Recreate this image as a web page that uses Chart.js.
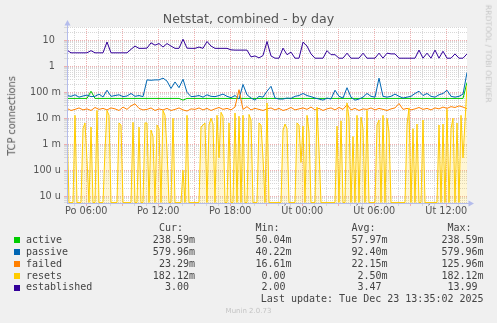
<!DOCTYPE html>
<html>
<head>
<meta charset="utf-8">
<title>Netstat, combined - by day</title>
<script src="https://cdn.jsdelivr.net/npm/chart.js@4.4.1/dist/chart.umd.min.js"></script>
<style>
  html, body { margin: 0; padding: 0; background: #f0f0f0; }
  #wrap { position: relative; width: 497px; height: 323px; overflow: hidden; font-family: 'DejaVu Sans', sans-serif; }
  #chart { position: absolute; left: 0; top: 0; }
  .txt { position: absolute; white-space: pre; }
  .title { left: 0; width: 497px; top: 13.3px; text-align: center; font-size: 12.6px; line-height: 12.6px; color: #555; }
  .ytitle { left: -88.4px; top: 110.65px; width: 200px; text-align: center; font-size: 9.7px; line-height: 9.7px; color: #555; transform: rotate(-90deg); }
  .side { left: 387.9px; top: 49.7px; width: 200px; text-align: center; font-size: 7.6px; line-height: 7.6px; color: #c4c4c4; transform: rotate(90deg); }
  .mono { font-family: 'DejaVu Sans Mono', monospace; font-size: 10px; line-height: 10px; color: #444; }
  .num { width: 120px; text-align: right; }
  .wide { width: 260px; text-align: right; }
  .box { position: absolute; width: 6px; height: 6px; }
  .footer { left: 0; width: 497px; text-align: center; font-size: 7px; line-height: 7px; top: 308.4px; color: #c4c4c4; }
</style>
</head>
<body>
<div id="wrap">
  <canvas id="chart" width="497" height="323"></canvas>
  <div class="txt title">Netstat, combined - by day</div>
  <div class="txt ytitle">TCP connections</div>
  <div class="txt side">RRDTOOL / TOBI OETIKER</div>
  <div id="legend"></div>
  <div class="txt mono wide" style="left:223.6px; top:294.4px">Last update: Tue Dec 23 13:35:02 2025</div>
  <div class="txt footer">Munin 2.0.73</div>
</div>
<script>
// ── Data ─────────────────────────────────
// Hours counted from Monday 00:00; one sample every 20 min (resets: every 10 min)
const X_START = 4.392;
const X_END = 37.725;
const Y_MIN = 5.5e-6;
const Y_MAX = 32.5;

const hourTicks = [6, 12, 18, 24, 30, 36];
const hourLabels = ['Po 06:00', 'Po 12:00', 'Po 18:00', 'Út 00:00', 'Út 06:00', 'Út 12:00'];
const decadeTicks = [1e-5, 1e-4, 1e-3, 1e-2, 1e-1, 1, 10];
const decadeLabels = ['10 u', '100 u', '1 m', '10 m', '100 m', '1  ', '10  '];

const active = [
  0.058, 0.058, 0.058, 0.058, 0.058, 0.058, 0.11, 0.058, 0.058, 0.058,
  0.058, 0.058, 0.058, 0.058, 0.058, 0.058, 0.058, 0.058, 0.058, 0.058,
  0.058, 0.058, 0.058, 0.058, 0.058, 0.058, 0.058, 0.058, 0.058, 0.05,
  0.058, 0.058, 0.058, 0.058, 0.058, 0.058, 0.058, 0.058, 0.058, 0.058,
  0.058, 0.058, 0.058, 0.058, 0.058, 0.058, 0.058, 0.058, 0.058, 0.058,
  0.058, 0.058, 0.058, 0.058, 0.058, 0.058, 0.058, 0.058, 0.058, 0.058,
  0.058, 0.058, 0.058, 0.058, 0.058, 0.058, 0.058, 0.058, 0.058, 0.058,
  0.058, 0.058, 0.058, 0.058, 0.058, 0.058, 0.058, 0.058, 0.058, 0.058,
  0.058, 0.058, 0.058, 0.058, 0.058, 0.058, 0.058, 0.058, 0.058, 0.058,
  0.058, 0.058, 0.058, 0.058, 0.058, 0.058, 0.058, 0.058, 0.058, 0.058,
  0.2386
];
const passive = [
  0.075, 0.07, 0.08, 0.065, 0.072, 0.078, 0.068, 0.07, 0.085, 0.066,
  0.12, 0.07, 0.075, 0.08, 0.068, 0.072, 0.09, 0.07, 0.075, 0.068,
  0.3, 0.29, 0.3, 0.3, 0.35, 0.27, 0.14, 0.25, 0.15, 0.32,
  0.1, 0.068, 0.07, 0.075, 0.065, 0.08, 0.07, 0.068, 0.075, 0.085,
  0.07, 0.062, 0.075, 0.055, 0.2, 0.08, 0.06, 0.05, 0.07, 0.065,
  0.11, 0.17, 0.06, 0.055, 0.055, 0.06, 0.058, 0.07, 0.075, 0.09,
  0.075, 0.068, 0.06, 0.055, 0.05, 0.06, 0.055, 0.12, 0.07, 0.06,
  0.15, 0.065, 0.05, 0.055, 0.065, 0.09, 0.07, 0.065, 0.35, 0.07,
  0.065, 0.07, 0.085, 0.07, 0.06, 0.065, 0.07, 0.09, 0.11, 0.075,
  0.09, 0.07, 0.065, 0.08, 0.09, 0.12, 0.07, 0.065, 0.07, 0.085,
  0.58
];
const failed = [
  0.024, 0.02, 0.022, 0.025, 0.021, 0.023, 0.02, 0.026, 0.022, 0.024,
  0.021, 0.025, 0.023, 0.02, 0.027, 0.022, 0.03, 0.036, 0.024, 0.021,
  0.022, 0.025, 0.02, 0.023, 0.021, 0.024, 0.02, 0.022, 0.025, 0.021,
  0.019, 0.023, 0.022, 0.025, 0.021, 0.024, 0.02, 0.023, 0.026, 0.022,
  0.024, 0.021, 0.027, 0.126, 0.022, 0.028, 0.021, 0.024, 0.022, 0.02,
  0.023, 0.025, 0.021, 0.024, 0.02, 0.022, 0.026, 0.021, 0.023, 0.025,
  0.022, 0.027, 0.021, 0.024, 0.02, 0.023, 0.025, 0.021, 0.026, 0.022,
  0.033, 0.021, 0.024, 0.02, 0.023, 0.022, 0.025, 0.021, 0.024, 0.022,
  0.02, 0.023, 0.025, 0.037, 0.022, 0.024, 0.021, 0.023, 0.026, 0.022,
  0.024, 0.021, 0.025, 0.023, 0.027, 0.024, 0.028, 0.026, 0.03, 0.027,
  0.0233
];
const established = [
  4.2, 3.3, 3.3, 3.3, 3.3, 3.3, 4.0, 3.3, 3.3, 3.3,
  8.6, 3.3, 3.3, 3.3, 3.3, 3.3, 4.5, 6.0, 4.9, 4.9,
  5.0, 8.0, 6.5, 7.5, 5.5, 7.5, 6.0, 4.9, 4.9, 11,
  5.0, 4.9, 4.9, 5.5, 4.9, 9.0, 6.0, 4.9, 4.9, 4.9,
  4.9, 4.3, 4.2, 4.2, 4.2, 4.2, 2.3, 2.5, 2.1, 2.6,
  9.0, 2.5, 2.05, 2.05, 5.0, 2.8, 3.5, 2.05, 2.05, 8.5,
  6.0, 3.0, 2.05, 2.05, 2.05, 4.0, 2.8, 2.8, 2.05, 2.05,
  3.2, 2.05, 2.05, 2.05, 3.2, 2.05, 2.05, 2.05, 3.2, 2.05,
  3.2, 3.0, 3.0, 2.05, 2.05, 2.05, 2.05, 2.05, 4.2, 2.05,
  3.2, 2.05, 4.2, 2.05, 3.8, 2.05, 2.05, 3.0, 2.05, 2.05,
  3.0
];
const resets = [
  0.008, 0, 0, 0, 0.013, 0, 0, 0, 0.004, 0.0066,
  0.00024, 0, 0.0046, 0, 0, 0.02, 0, 0, 0, 0.0006,
  0.02, 0.013, 0, 0, 0, 0, 0.0066, 0.0055, 0, 0,
  0, 0, 0, 0.007, 0, 0, 0.0046, 0, 0, 0.0066,
  0.0066, 0, 0.0035, 0.002, 0, 0.0055, 0.004, 0, 0.02, 0.013,
  0.0006, 0, 0, 0.01, 0, 0, 0, 0, 0.0001, 0,
  0.013, 0, 0, 0, 0, 0, 0, 0.0046, 0.0055, 0.0066,
  0, 0.0055, 0.01, 0.006, 0, 0.013, 0.0003, 0.017, 0.012, 0,
  0, 0.0066, 0, 0, 0.016, 0, 0.012, 0, 0.013, 0,
  0, 0.014, 0.0086, 0, 0, 0, 0.0066, 0.0055, 0.0003, 0,
  0.039, 0, 0, 0, 0, 0, 0, 0, 0.0035, 0.006,
  0.004, 0, 0, 0, 0, 0.0066, 0.0055, 0.0002, 0.005, 0,
  0.013, 0.003, 0, 0, 0, 0.027, 0.0006, 0, 0, 0,
  0, 0, 0, 0, 0, 0.005, 0, 0.008, 0, 0,
  0.039, 0.01, 0, 0.002, 0, 0.013, 0, 0.011, 0.004, 0,
  0.02, 0, 0, 0, 0, 0.0055, 0.0086, 0, 0.013, 0,
  0.01, 0.003, 0, 0, 0, 0, 0, 0, 0, 0,
  0.0055, 0.025, 0, 0.004, 0, 0.006, 0, 0, 0.0086, 0,
  0, 0, 0, 0, 0, 0, 0.0055, 0, 0.006, 0,
  0.022, 0, 0.004, 0.01, 0, 0.0066, 0, 0.013, 0.0003, 0.0075,
  0.182
];

// ── Legend ───────────────────────────────
const seriesNames = ['active', 'passive', 'failed', 'resets', 'established'];
const seriesColors = ['#00cc00', '#0066b3', '#ff8000', '#ffcc00', '#330099'];
const curText = ['238.59m', '579.96m', '23.29m', '182.12m', '3.00 '];
const minText = ['50.04m', '40.22m', '16.61m', '0.00 ', '2.00 '];
const avgText = ['57.97m', '92.40m', '22.15m', '2.50m', '3.47 '];
const maxText = ['238.59m', '579.96m', '125.96m', '182.12m', '13.99 '];

const AXIS_COLOR = '#b4bcec';
const MAJOR_GRID = '#eeb0b0';
const MINOR_GRID = '#d8d8d8';

function buildLegend() {
  const cols = [
    { head: 'Cur:  ', vals: curText, right: 195 },
    { head: 'Min:  ', vals: minText, right: 291.6 },
    { head: 'Avg:  ', vals: avgText, right: 387.6 },
    { head: 'Max:  ', vals: maxText, right: 483.6 }
  ];
  let html = cols.map(c =>
    `<div class="txt mono num" style="left:${c.right - 120}px; top:223px">${c.head}</div>`).join('');
  seriesNames.forEach((name, r) => {
    const top = 234.85 + r * 11.9;
    html += `<div class="box" style="left:14px; top:${top + 2.5}px; background:${seriesColors[r]}"></div>`;
    html += `<div class="txt mono" style="left:26px; top:${top}px">${name}</div>`;
    cols.forEach(c => {
      html += `<div class="txt mono num" style="left:${c.right - 120}px; top:${top}px">${c.vals[r]}</div>`;
    });
  });
  document.getElementById('legend').innerHTML = html;
}

function toPoints(values, step) {
  // log axis: zero readings sit on the floor of the plot, like rrdtool does
  return values.map((v, i) => ({ x: X_START + i * step, y: v > 0 ? v : Y_MIN * 1.05 }));
}

function isDecade(v) {
  return decadeTicks.some(d => Math.abs(v / d - 1) < 1e-6);
}

// ── Plot background and axis arrows ─────
const muninFrame = {
  id: 'muninFrame',
  beforeDraw(chart) {
    const { ctx, chartArea: a } = chart;
    ctx.save();
    ctx.fillStyle = '#ffffff';
    ctx.fillRect(a.left, a.top, a.right - a.left, a.bottom - a.top);
    ctx.restore();
  },
  afterDraw(chart) {
    const { ctx, chartArea: a } = chart;
    const x = Math.round(a.left) + 0.5;
    const y = Math.round(a.bottom) + 0.5;
    ctx.save();
    ctx.strokeStyle = AXIS_COLOR;
    ctx.fillStyle = AXIS_COLOR;
    ctx.lineWidth = 1;
    ctx.beginPath();
    ctx.moveTo(x, a.top);
    ctx.lineTo(x, a.top - 3);
    ctx.moveTo(a.right, y);
    ctx.lineTo(a.right + 2, y);
    ctx.stroke();
    ctx.beginPath();
    ctx.moveTo(x, a.top - 7);
    ctx.lineTo(x - 3, a.top - 1.5);
    ctx.lineTo(x + 3, a.top - 1.5);
    ctx.closePath();
    ctx.fill();
    ctx.beginPath();
    ctx.moveTo(a.right + 7, y);
    ctx.lineTo(a.right + 1.5, y - 3);
    ctx.lineTo(a.right + 1.5, y + 3);
    ctx.closePath();
    ctx.fill();
    ctx.restore();
  }
};

function line(label, values, step, color, order, extra) {
  return Object.assign({
    label,
    data: toPoints(values, step),
    borderColor: color,
    borderWidth: 1,
    pointRadius: 0,
    tension: 0,
    fill: false,
    order
  }, extra || {});
}

buildLegend();

const tickFont = { family: "'DejaVu Sans', sans-serif", size: 9.7 };

new Chart(document.getElementById('chart').getContext('2d'), {
  type: 'line',
  data: {
    datasets: [
      line('active', active, 1 / 3, seriesColors[0], 5),
      line('passive', passive, 1 / 3, seriesColors[1], 4),
      line('failed', failed, 1 / 3, seriesColors[2], 3),
      line('resets', resets, 1 / 6, seriesColors[3], 2, { fill: 'start', backgroundColor: 'rgba(255,210,40,0.2)' }),
      line('established', established, 1 / 3, seriesColors[4], 1)
    ]
  },
  options: {
    responsive: false,
    devicePixelRatio: 1,
    animation: false,
    events: [],
    layout: { padding: { top: 27, right: 30, bottom: 100, left: 0 } },
    plugins: { legend: { display: false }, tooltip: { enabled: false } },
    scales: {
      x: {
        type: 'linear',
        min: X_START,
        max: X_END,
        afterFit: s => { s.height = 20; },
        afterBuildTicks: s => {
          const ticks = [];
          for (let h = Math.ceil(X_START); h <= X_END; h++) ticks.push({ value: h });
          s.ticks = ticks;
        },
        ticks: {
          autoSkip: false,
          maxRotation: 0,
          padding: 0,
          color: '#555',
          font: tickFont,
          callback: v => {
            const i = hourTicks.indexOf(v);
            return i >= 0 ? hourLabels[i] : '';
          }
        },
        grid: {
          color: c => (c.tick && c.tick.value % 3 === 0) ? MAJOR_GRID : MINOR_GRID,
          tickLength: 3
        },
        border: { display: true, color: AXIS_COLOR, dash: [1, 1], z: 1 }
      },
      y: {
        type: 'logarithmic',
        min: Y_MIN,
        max: Y_MAX,
        afterFit: s => { s.width = 67; },
        afterBuildTicks: s => {
          const ticks = [];
          for (let k = -6; k <= 1; k++) {
            for (let m = 1; m <= 9; m++) {
              const v = Number((m * Math.pow(10, k)).toPrecision(3));
              if (v >= Y_MIN && v <= Y_MAX) ticks.push({ value: v });
            }
          }
          s.ticks = ticks;
        },
        ticks: {
          autoSkip: false,
          padding: 3,
          color: '#555',
          font: tickFont,
          callback: v => {
            const i = decadeTicks.findIndex(d => Math.abs(v / d - 1) < 1e-6);
            return i >= 0 ? decadeLabels[i] : '';
          }
        },
        grid: {
          color: c => (c.tick && isDecade(c.tick.value)) ? MAJOR_GRID : MINOR_GRID,
          tickLength: 3
        },
        border: { display: true, color: AXIS_COLOR, dash: [1, 1], z: 1 }
      }
    }
  },
  plugins: [muninFrame]
});
</script>
</body>
</html>
